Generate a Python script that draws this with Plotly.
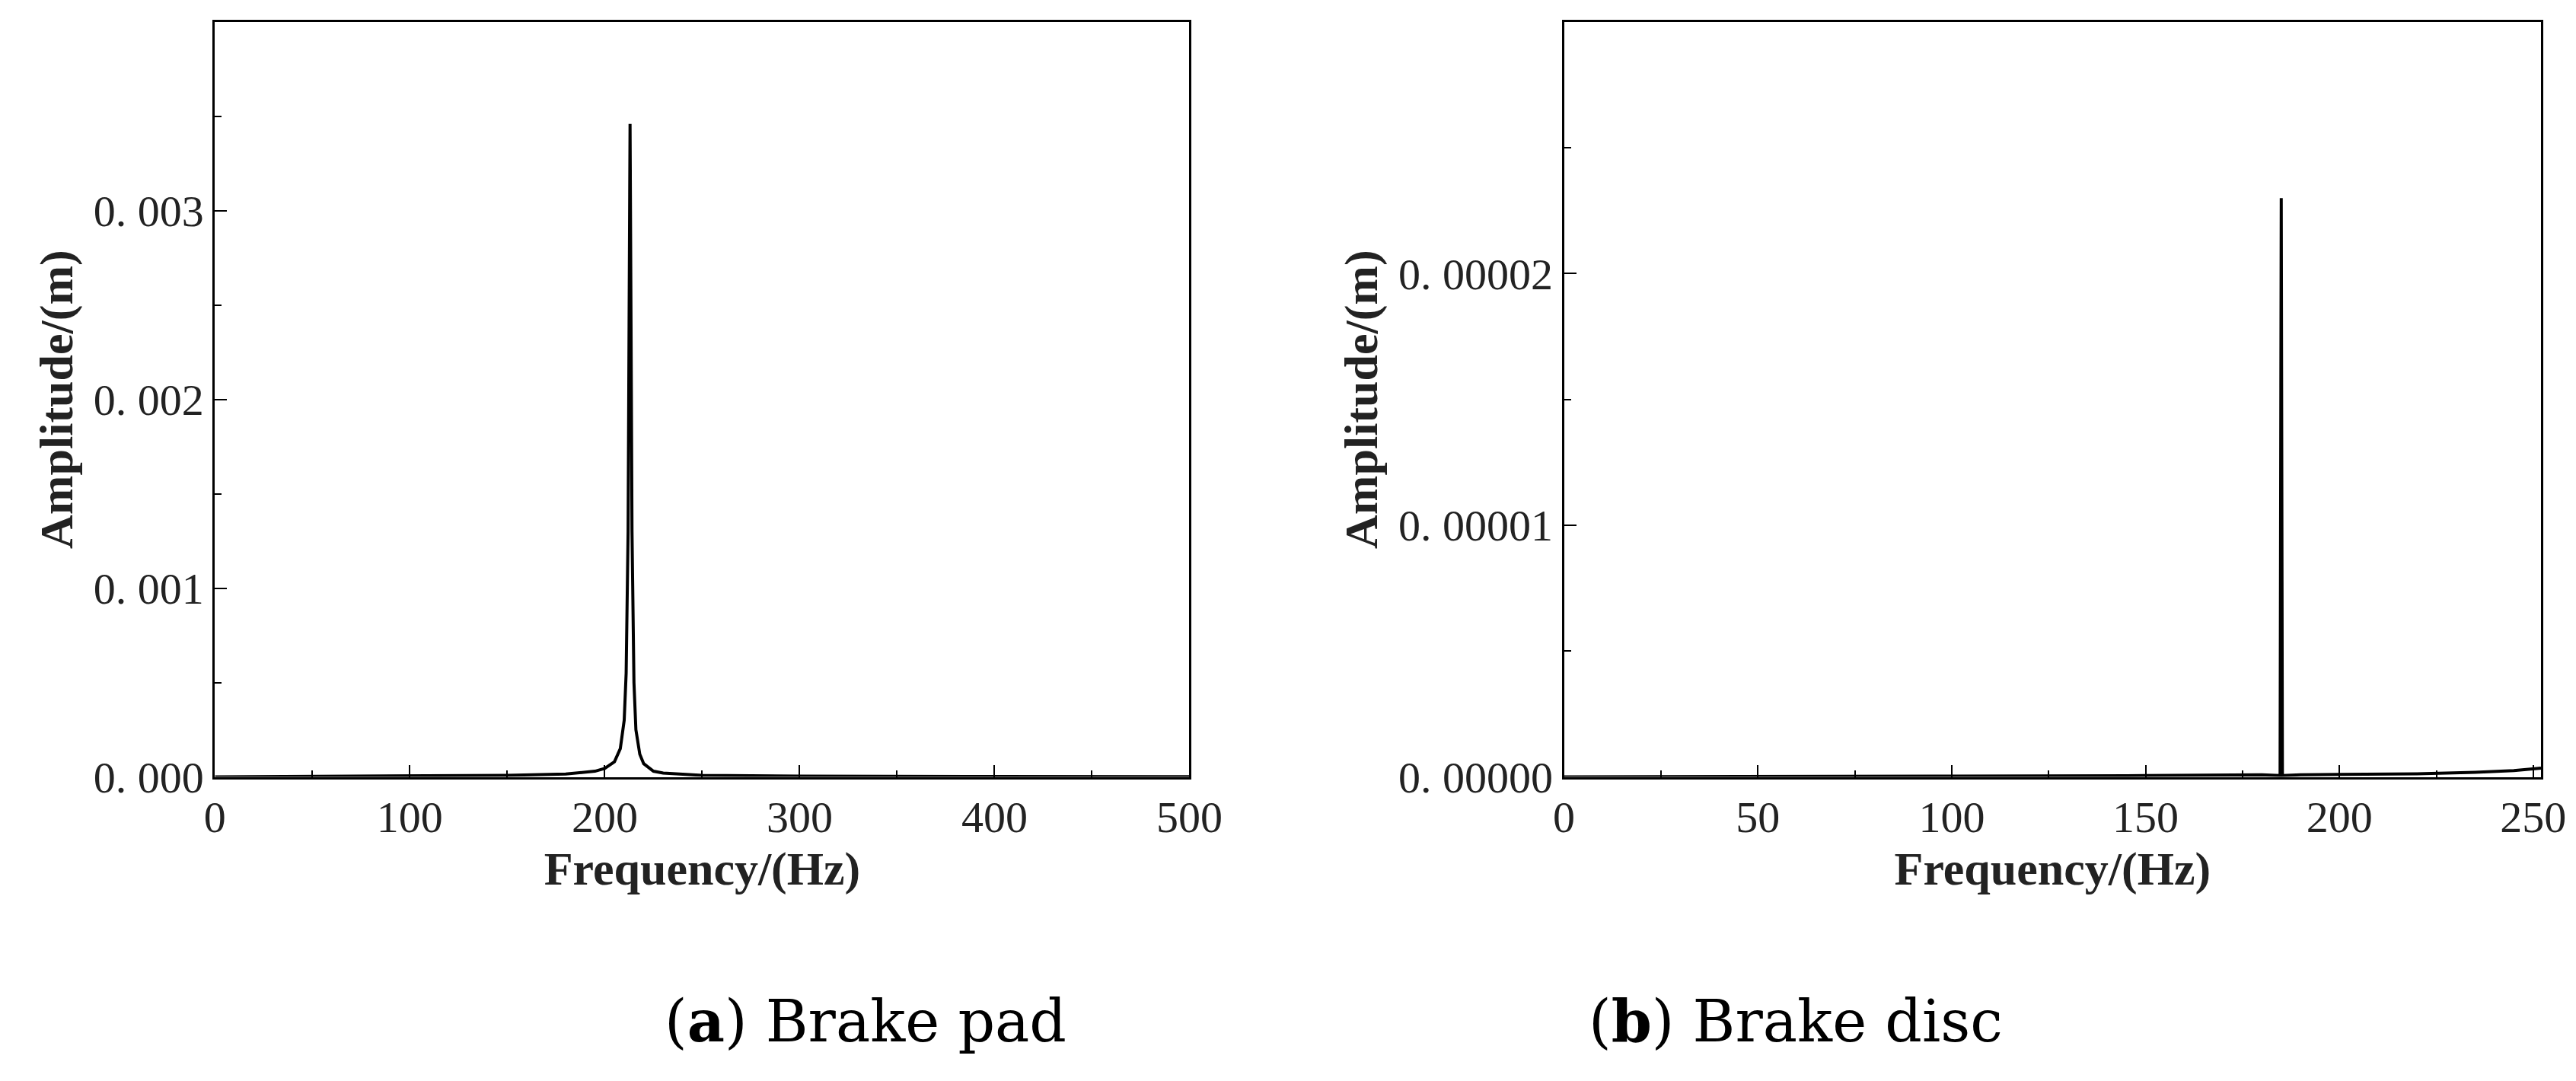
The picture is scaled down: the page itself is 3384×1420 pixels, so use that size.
import plotly.graph_objects as go
from plotly.subplots import make_subplots

# brake pad spectrum
pad_freq = [0, 50, 100, 150, 180, 195, 200, 205, 208, 210, 211, 212, 212.5, 213,
            213.5, 214, 215, 216, 218, 220, 225, 230, 250, 300, 400, 470, 500]
pad_amp = [0, 2e-6, 4e-6, 8e-6, 1.5e-5, 3e-5, 4.5e-5, 8e-5, 1.5e-4, 3e-4, 5.5e-4, 1.3e-3,
           2.4e-3, 3.46e-3, 2.4e-3, 1.3e-3, 5e-4, 2.5e-4, 1.2e-4, 7e-5, 3e-5, 2e-5,
           8e-6, 4e-6, 2e-6, 1e-6, 1e-6]

# brake disc spectrum
disc_freq = [0, 50, 100, 150, 180, 184.7, 185, 185.3, 190, 200, 220, 235, 245, 252]
disc_amp = [0, 0, 3e-8, 5e-8, 8e-8, 5e-8, 2.3e-5, 5e-8, 8e-8, 1e-7, 1.2e-7, 1.8e-7, 2.5e-7, 3.5e-7]

pad_yticks = [0, 0.001, 0.002, 0.003, 0.004]
pad_ylabels = ['0. 000', '0. 001', '0. 002', '0. 003', '0. 004']
disc_yticks = [0, 1e-5, 2e-5, 3e-5]
disc_ylabels = ['0. 00000', '0. 00001', '0. 00002', '0. 00003']

SERIF = 'Liberation Serif'

fig = make_subplots(rows=1, cols=2, horizontal_spacing=0.145)
fig.add_trace(go.Scatter(x=pad_freq, y=pad_amp, mode='lines',
                         line=dict(color='black', width=4)), row=1, col=1)
fig.add_trace(go.Scatter(x=disc_freq, y=disc_amp, mode='lines',
                         line=dict(color='black', width=4)), row=1, col=2)

axis_style = dict(showline=True, linecolor='black', linewidth=3, mirror=True,
                  ticks='inside', ticklen=16, tickwidth=2, tickcolor='black',
                  showgrid=False, zeroline=False,
                  tickfont=dict(family=SERIF, size=58, color='#222'),
                  minor=dict(ticks='inside', ticklen=9, tickwidth=2, tickcolor='black'))
title_font = dict(family=SERIF, size=62, color='#222')

fig.update_xaxes(**axis_style)
fig.update_yaxes(**axis_style)
fig.update_xaxes(range=[0, 500], dtick=100, minor_dtick=50, domain=[0.078, 0.463],
                 title=dict(text='<b>Frequency/(Hz)</b>', font=title_font, standoff=14), row=1, col=1)
fig.update_xaxes(range=[0, 252], dtick=50, minor_dtick=25, domain=[0.611, 0.997],
                 title=dict(text='<b>Frequency/(Hz)</b>', font=title_font, standoff=14), row=1, col=2)
fig.update_yaxes(range=[0, 0.004], tickvals=pad_yticks, ticktext=pad_ylabels,
                 minor=dict(tickvals=[0.0005, 0.0015, 0.0025, 0.0035]),
                 title=dict(text='<b>Amplitude/(m)</b>', font=title_font, standoff=8),
                 domain=[0.27, 0.985], row=1, col=1)
fig.update_yaxes(range=[0, 3e-5], tickvals=disc_yticks, ticktext=disc_ylabels,
                 minor=dict(tickvals=[0.5e-5, 1.5e-5, 2.5e-5]),
                 title=dict(text='<b>Amplitude/(m)</b>', font=title_font, standoff=8),
                 domain=[0.27, 0.985], row=1, col=2)

cap_font = dict(family='DejaVu Serif', size=76, color='black')
fig.add_annotation(text='(<b>a</b>) Brake pad', x=0.255, y=0.005, xref='paper', yref='paper',
                   yanchor='bottom', showarrow=False, font=cap_font)
fig.add_annotation(text='(<b>b</b>) Brake disc', x=0.785, y=0.005, xref='paper', yref='paper',
                   yanchor='bottom', showarrow=False, font=cap_font)

fig.update_layout(width=3384, height=1420, showlegend=False,
                  plot_bgcolor='white', paper_bgcolor='white',
                  margin=dict(t=0, r=0, b=0, l=0))
fig.write_html('out.html')
